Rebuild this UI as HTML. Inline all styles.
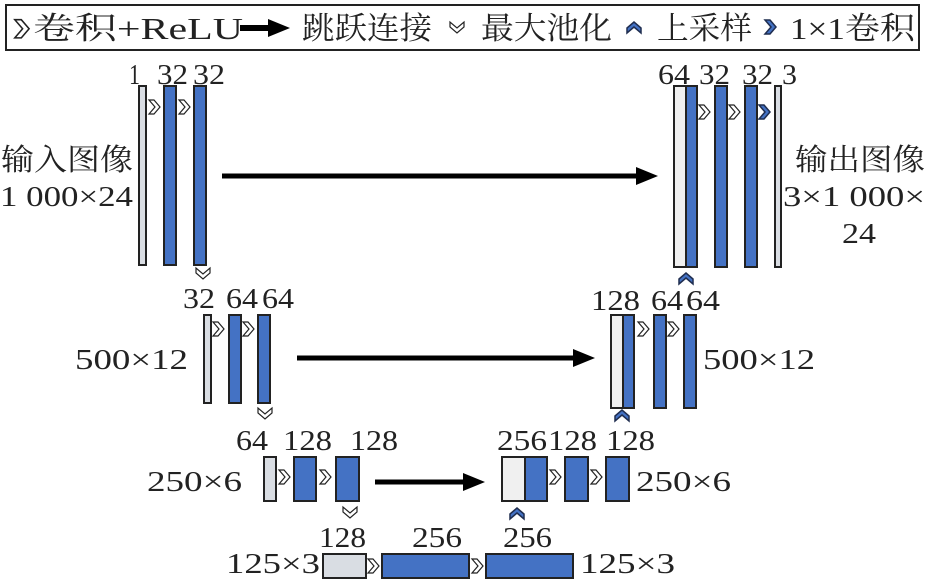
<!DOCTYPE html>
<html><head><meta charset="utf-8"><style>
html,body{margin:0;padding:0;background:#fff;}
svg{display:block;}
text{font-family:"Liberation Serif","Noto Serif CJK SC",serif;fill:#222;}
</style></head><body>
<svg width="925" height="584" viewBox="0 0 925 584" xmlns="http://www.w3.org/2000/svg">
<defs>
<path id="cv" d="M0,0 L5,0 L11,7 L5,14 L0,14 L6,7 Z" fill="#fff" stroke="#222" stroke-width="1.2"/>
<path id="pl" d="M0,0 L0,5 L7,11 L14,5 L14,0 L7,6 Z" fill="#fff" stroke="#222" stroke-width="1.2"/>
<path id="up" d="M0,11 L0,6 L7,0 L14,6 L14,11 L7,5 Z" fill="#4472c4" stroke="#1f2d4f" stroke-width="1.5"/>
<path id="c1" d="M0,0 L5,0 L11,7 L5,14 L0,14 L6,7 Z" fill="#4472c4" stroke="#1f2d4f" stroke-width="1.5"/>
</defs>
<!-- legend -->
<rect x="6" y="5" width="913" height="45" fill="#fff" stroke="#222" stroke-width="2"/>
<use href="#cv" x="12" y="19" transform="translate(-6,-5) scale(1.3) translate(4,0)"/>
<text x="33" y="39" font-size="31" textLength="210" lengthAdjust="spacingAndGlyphs">卷积+ReLU</text>
<path d="M240,28 L272,28" stroke="#000" stroke-width="6"/>
<path d="M268,19 L290,28 L268,37 Z" fill="#000"/>
<text x="302" y="39" font-size="31" textLength="130" lengthAdjust="spacingAndGlyphs">跳跃连接</text>
<use href="#pl" x="450" y="22"/>
<text x="481" y="39" font-size="31" textLength="131" lengthAdjust="spacingAndGlyphs">最大池化</text>
<use href="#up" x="627" y="22"/>
<text x="657" y="39" font-size="31" textLength="95" lengthAdjust="spacingAndGlyphs">上采样</text>
<use href="#c1" x="765" y="20"/>
<text x="790" y="39" font-size="31" textLength="125" lengthAdjust="spacingAndGlyphs">1×1卷积</text>

<g stroke="#222" stroke-width="2">
<rect x="139" y="86" width="7" height="179" fill="#d9dde3"/>
<rect x="164" y="86" width="12" height="179" fill="#4472c4"/>
<rect x="194" y="86" width="12" height="179" fill="#4472c4"/>
<rect x="674" y="86" width="12" height="181" fill="#f0f0f0"/>
<rect x="686" y="86" width="11" height="181" fill="#4472c4"/>
<rect x="715" y="86" width="12" height="181" fill="#4472c4"/>
<rect x="745" y="86" width="12" height="181" fill="#4472c4"/>
<rect x="775" y="86" width="6" height="181" fill="#d9dde3"/>
<rect x="204" y="315" width="7" height="88" fill="#d9dde3"/>
<rect x="229" y="315" width="12" height="88" fill="#4472c4"/>
<rect x="258" y="315" width="12" height="88" fill="#4472c4"/>
<rect x="611" y="315" width="12" height="93" fill="#f0f0f0"/>
<rect x="623" y="315" width="11" height="93" fill="#4472c4"/>
<rect x="654" y="315" width="12" height="93" fill="#4472c4"/>
<rect x="684" y="315" width="12" height="93" fill="#4472c4"/>
<rect x="264" y="457" width="12" height="44" fill="#d9dde3"/>
<rect x="294" y="457" width="22" height="44" fill="#4472c4"/>
<rect x="336" y="457" width="23" height="44" fill="#4472c4"/>
<rect x="502" y="457" width="23" height="44" fill="#f0f0f0"/>
<rect x="525" y="457" width="22" height="44" fill="#4472c4"/>
<rect x="565" y="457" width="23" height="44" fill="#4472c4"/>
<rect x="606" y="457" width="23" height="44" fill="#4472c4"/>
<rect x="323" y="554" width="43" height="24" fill="#d9dde3"/>
<rect x="382" y="554" width="87" height="24" fill="#4472c4"/>
<rect x="486" y="554" width="87" height="24" fill="#4472c4"/>
</g>
<path d="M222,176 L640,176" stroke="#000" stroke-width="5"/><path d="M636,167 L658,176 L636,185 Z"/>
<path d="M297,358 L577,358" stroke="#000" stroke-width="5"/><path d="M573,349 L595,358 L573,367 Z"/>
<path d="M375,482 L467,482" stroke="#000" stroke-width="5"/><path d="M463,473 L485,482 L463,491 Z"/>
<use href="#cv" x="149" y="100"/><use href="#cv" x="179" y="100"/>
<use href="#cv" x="699" y="105"/><use href="#cv" x="729" y="105"/><use href="#c1" x="759" y="105"/>
<use href="#pl" x="196" y="268"/><use href="#up" x="679" y="273"/>
<use href="#cv" x="213" y="322"/><use href="#cv" x="243" y="322"/>
<use href="#cv" x="638" y="322"/><use href="#cv" x="668" y="322"/>
<use href="#pl" x="258" y="408"/><use href="#up" x="615" y="410"/>
<use href="#cv" x="279" y="470"/><use href="#cv" x="320" y="470"/>
<use href="#cv" x="550" y="470"/><use href="#cv" x="591" y="470"/>
<use href="#pl" x="343" y="507"/><use href="#up" x="510" y="508"/>
<use href="#cv" x="368" y="559"/><use href="#cv" x="472" y="559"/>
<g font-size="28" lengthAdjust="spacingAndGlyphs">
<text x="129" y="84" textLength="11" lengthAdjust="spacingAndGlyphs">1</text>
<text x="157" y="84" textLength="31" lengthAdjust="spacingAndGlyphs">32</text>
<text x="193" y="84" textLength="32" lengthAdjust="spacingAndGlyphs">32</text>
<text x="658" y="84" textLength="32" lengthAdjust="spacingAndGlyphs">64</text>
<text x="699" y="84" textLength="31" lengthAdjust="spacingAndGlyphs">32</text>
<text x="742" y="84" textLength="31" lengthAdjust="spacingAndGlyphs">32</text>
<text x="782" y="84" textLength="15" lengthAdjust="spacingAndGlyphs">3</text>
<text x="183" y="308" textLength="32" lengthAdjust="spacingAndGlyphs">32</text>
<text x="226" y="308" textLength="32" lengthAdjust="spacingAndGlyphs">64</text>
<text x="262" y="308" textLength="32" lengthAdjust="spacingAndGlyphs">64</text>
<text x="591" y="310" textLength="49" lengthAdjust="spacingAndGlyphs">128</text>
<text x="651" y="310" textLength="32" lengthAdjust="spacingAndGlyphs">64</text>
<text x="686" y="310" textLength="34" lengthAdjust="spacingAndGlyphs">64</text>
<text x="75" y="369" textLength="113" lengthAdjust="spacingAndGlyphs">500×12</text>
<text x="703" y="369" textLength="112" lengthAdjust="spacingAndGlyphs">500×12</text>
<text x="236" y="450" textLength="32" lengthAdjust="spacingAndGlyphs">64</text>
<text x="283" y="450" textLength="49" lengthAdjust="spacingAndGlyphs">128</text>
<text x="350" y="450" textLength="48" lengthAdjust="spacingAndGlyphs">128</text>
<text x="497" y="450" textLength="50" lengthAdjust="spacingAndGlyphs">256</text>
<text x="548" y="450" textLength="49" lengthAdjust="spacingAndGlyphs">128</text>
<text x="606" y="450" textLength="49" lengthAdjust="spacingAndGlyphs">128</text>
<text x="147" y="491" textLength="95" lengthAdjust="spacingAndGlyphs">250×6</text>
<text x="636" y="491" textLength="95" lengthAdjust="spacingAndGlyphs">250×6</text>
<text x="319" y="547" textLength="47" lengthAdjust="spacingAndGlyphs">128</text>
<text x="412" y="547" textLength="50" lengthAdjust="spacingAndGlyphs">256</text>
<text x="503" y="547" textLength="49" lengthAdjust="spacingAndGlyphs">256</text>
<text x="226" y="573" textLength="94" lengthAdjust="spacingAndGlyphs">125×3</text>
<text x="580" y="573" textLength="95" lengthAdjust="spacingAndGlyphs">125×3</text>
<text x="0" y="206" textLength="133" lengthAdjust="spacingAndGlyphs">1 000×24</text>
<text x="783" y="206" textLength="142" lengthAdjust="spacingAndGlyphs">3×1 000×</text>
<text x="842" y="243" textLength="34" lengthAdjust="spacingAndGlyphs">24</text>
</g>
<g font-size="30">
<text x="1" y="170" textLength="132" lengthAdjust="spacingAndGlyphs">输入图像</text>
<text x="795" y="170" textLength="130" lengthAdjust="spacingAndGlyphs">输出图像</text>
</g>
</svg>
</body></html>
